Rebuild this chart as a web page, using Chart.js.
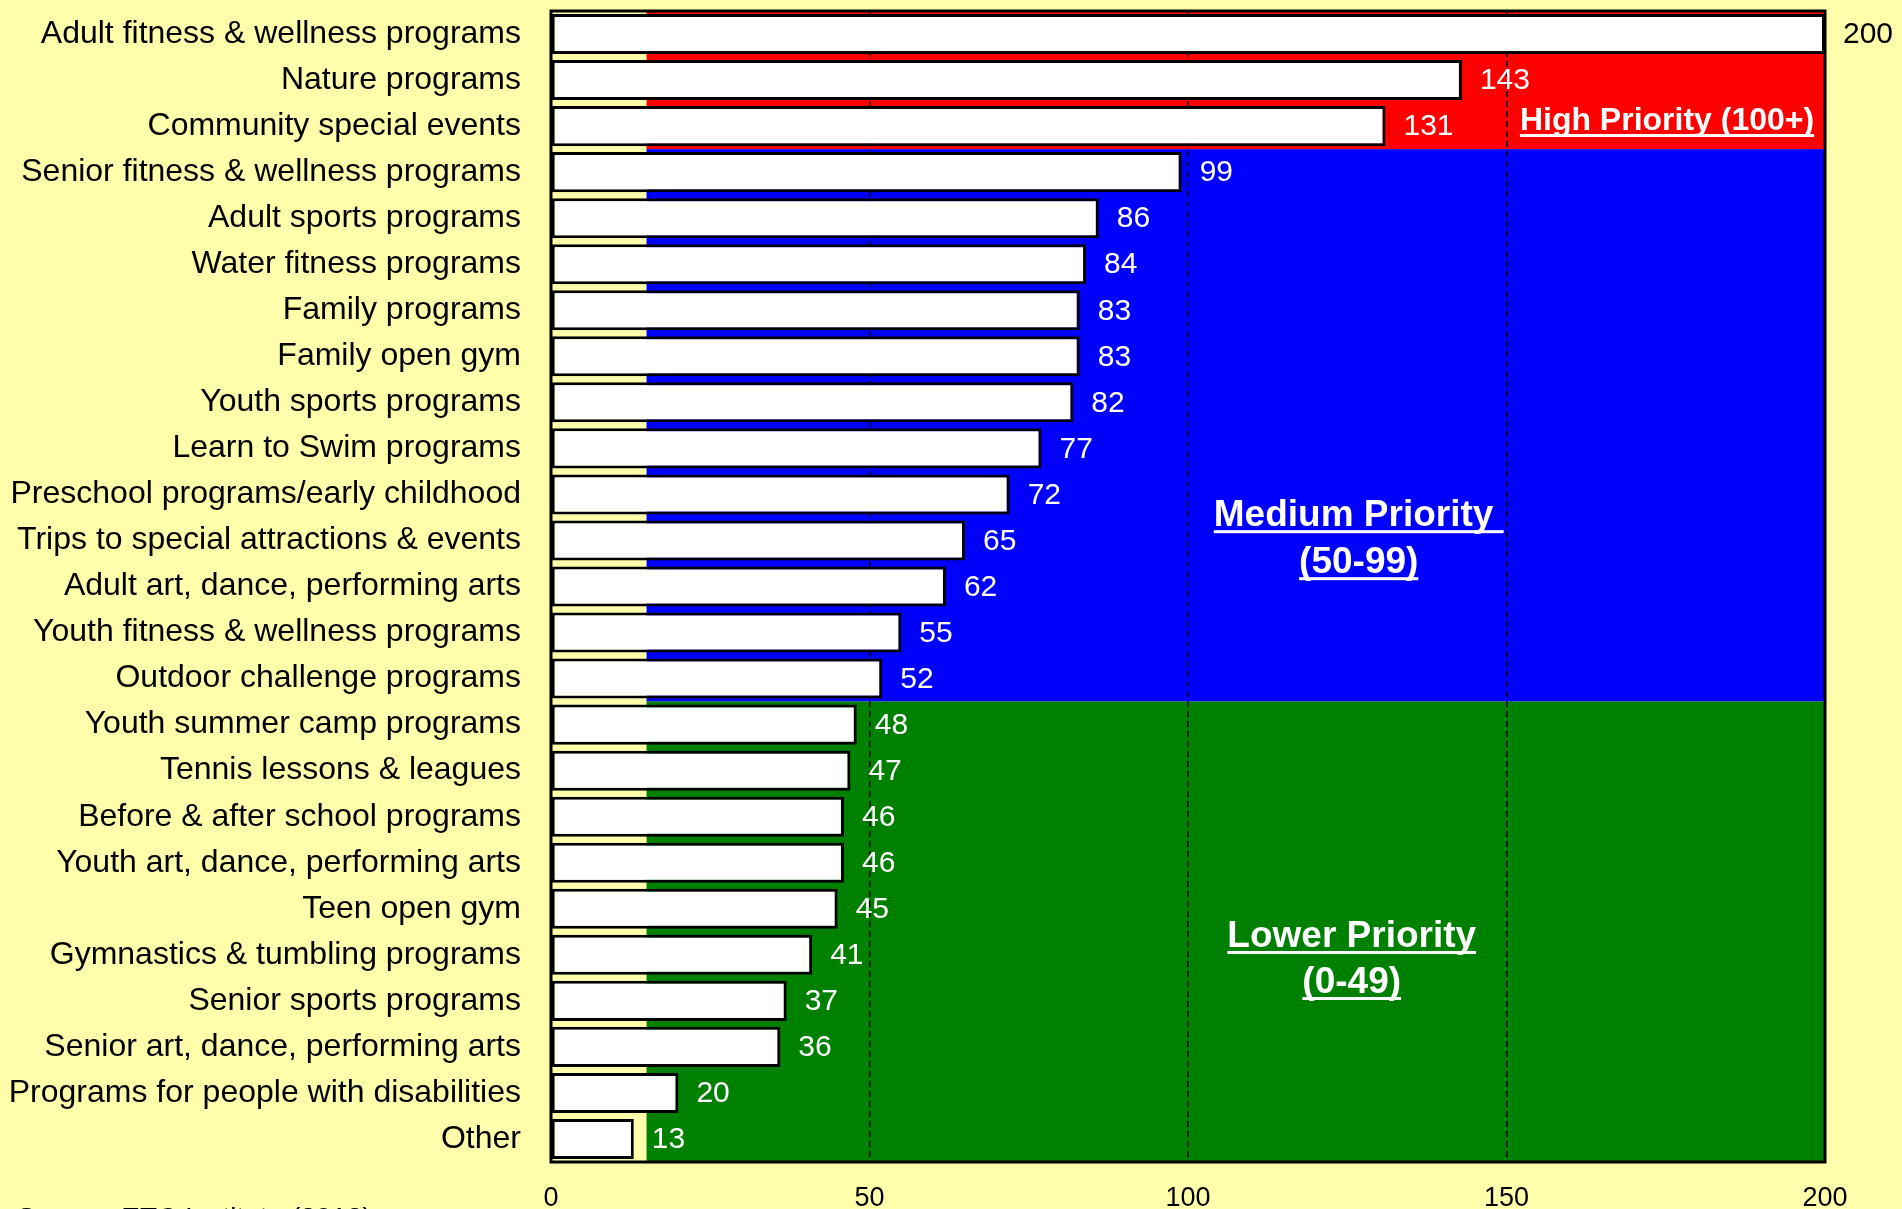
<!DOCTYPE html>
<html>
<head>
<meta charset="utf-8">
<title>Program priorities</title>
<script src="https://cdn.jsdelivr.net/npm/chart.js@4.4.1/dist/chart.umd.min.js"></script>
<style>
  html, body { margin: 0; padding: 0; background: #ffffab; overflow: hidden; }
  #wrap { width: 1902px; height: 1209px; }
</style>
</head>
<body>
<div id="wrap"><canvas id="grafico" width="1902" height="1209"></canvas></div>
<script>
const programs = [
  "Adult fitness & wellness programs",
  "Nature programs",
  "Community special events",
  "Senior fitness & wellness programs",
  "Adult sports programs",
  "Water fitness programs",
  "Family programs",
  "Family open gym",
  "Youth sports programs",
  "Learn to Swim programs",
  "Preschool programs/early childhood",
  "Trips to special attractions & events",
  "Adult art, dance, performing arts",
  "Youth fitness & wellness programs",
  "Outdoor challenge programs",
  "Youth summer camp programs",
  "Tennis lessons & leagues",
  "Before & after school programs",
  "Youth art, dance, performing arts",
  "Teen open gym",
  "Gymnastics & tumbling programs",
  "Senior sports programs",
  "Senior art, dance, performing arts",
  "Programs for people with disabilities",
  "Other"
];
const scores = [200, 143, 131, 99, 86, 84, 83, 83, 82, 77, 72, 65, 62, 55, 52, 48, 47, 46, 46, 45, 41, 37, 36, 20, 13];

const axisMin = 0;
const axisMax = 200;
const axisStep = 50;

// priority bands: first and last row of each band, band shading starts at 15
const bandFirstRow = [0, 3, 15];
const bandLastRow = [2, 14, 24];
const bandStart = 15;
const bandColors = ["#ff0000", "#0000ff", "#008000"];

const FONT = "'Liberation Sans', Arial, sans-serif";

const priorityBands = {
  id: "priorityBands",
  beforeDraw(chart) {
    const { ctx, scales: { x, y } } = chart;
    ctx.save();
    ctx.fillStyle = "#ffffab";
    ctx.fillRect(0, 0, chart.width, chart.height);
    const left = x.getPixelForValue(bandStart);
    const right = x.getPixelForValue(axisMax);
    bandFirstRow.forEach((first, i) => {
      const top = y.getPixelForValue(first - 0.5);
      const bottom = y.getPixelForValue(bandLastRow[i] + 0.5);
      ctx.fillStyle = bandColors[i];
      ctx.fillRect(left, top, right - left, bottom - top);
    });
    ctx.restore();
  }
};

// underlined white captions for each band
function underlinedText(ctx, text, cx, baseline) {
  const w = ctx.measureText(text).width;
  ctx.fillText(text, cx - w / 2, baseline);
  ctx.fillRect(cx - w / 2, baseline + 4, w, 3);
}

const overlays = {
  id: "overlays",
  afterDatasetsDraw(chart) {
    const { ctx, chartArea, scales: { x, y } } = chart;
    const meta = chart.getDatasetMeta(0);
    ctx.save();

    // value labels at the end of each bar
    ctx.font = "30px " + FONT;
    ctx.textBaseline = "middle";
    ctx.textAlign = "left";
    meta.data.forEach((bar, i) => {
      const lx = bar.x + 18;
      ctx.fillStyle = lx > chartArea.right ? "#000" : "#fff";
      ctx.fillText(String(scores[i]), lx, bar.y + 1);
    });

    // plot frame
    ctx.lineWidth = 3;
    ctx.strokeStyle = "#000";
    ctx.strokeRect(chartArea.left, chartArea.top, chartArea.right - chartArea.left, chartArea.bottom - chartArea.top);

    // band captions
    ctx.textBaseline = "alphabetic";
    ctx.fillStyle = "#fff";
    ctx.font = "bold 32px " + FONT;
    underlinedText(ctx, "High Priority (100+)", x.getPixelForValue(175.2), y.getPixelForValue(2.085));
    ctx.font = "bold 37px " + FONT;
    const mid = x.getPixelForValue(126.8);
    const midTop = y.getPixelForValue(10.69);
    underlinedText(ctx, "Medium Priority ", mid, midTop);
    underlinedText(ctx, "(50-99)", mid, midTop + 47);
    const low = x.getPixelForValue(125.7);
    const lowTop = y.getPixelForValue(19.83);
    underlinedText(ctx, "Lower Priority", low, lowTop);
    underlinedText(ctx, "(0-49)", low, lowTop + 46);

    ctx.restore();
  },
  afterDraw(chart) {
    const ctx = chart.ctx;
    ctx.save();
    ctx.font = "28px " + FONT;
    ctx.fillStyle = "#000";
    ctx.textBaseline = "alphabetic";
    ctx.fillText("Source: ETC Institute (2013)", 17, 1227);
    ctx.restore();
  }
};

new Chart(document.getElementById("grafico"), {
  type: "bar",
  data: {
    labels: programs,
    datasets: [{
      data: scores,
      backgroundColor: "#ffffff",
      borderColor: "#000000",
      borderWidth: 3,
      borderSkipped: false,
      barPercentage: 0.87,
      categoryPercentage: 1
    }]
  },
  options: {
    indexAxis: "y",
    responsive: false,
    animation: false,
    devicePixelRatio: 1,
    layout: { padding: { top: 11, right: 77, bottom: 0, left: 0 } },
    plugins: {
      legend: { display: false },
      tooltip: { enabled: false }
    },
    scales: {
      x: {
        type: "linear",
        min: axisMin,
        max: axisMax,
        afterFit(scale) {
          scale.height = 47;
          scale.paddingLeft = 0;
          scale.paddingRight = 0;
        },
        ticks: {
          stepSize: axisStep,
          color: "#000",
          padding: 20,
          font: { family: FONT, size: 27 }
        },
        grid: {
          drawTicks: false,
          lineWidth: 1.5,
          color: c => (c.tick && c.tick.value > axisMin && c.tick.value < axisMax) ? "#000" : "rgba(0,0,0,0)"
        },
        border: { display: false, dash: [6, 4] }
      },
      y: {
        afterFit(scale) {
          scale.width = 551;
          scale.paddingTop = 0;
          scale.paddingBottom = 0;
        },
        ticks: {
          color: "#000",
          padding: 30,
          autoSkip: false,
          font: { family: FONT, size: 32 }
        },
        grid: { display: false, drawTicks: false },
        border: { display: false }
      }
    }
  },
  plugins: [priorityBands, overlays]
});
</script>
</body>
</html>
